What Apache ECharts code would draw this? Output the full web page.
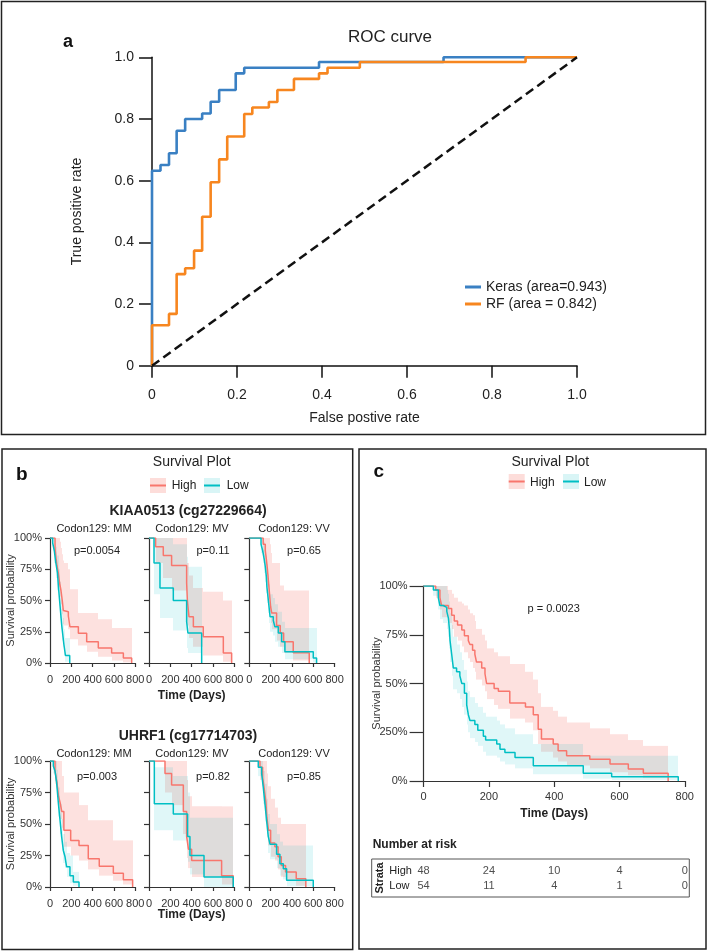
<!DOCTYPE html>
<html><head><meta charset="utf-8">
<script src="https://cdn.jsdelivr.net/npm/echarts@6/dist/echarts.min.js"></script>
<style>html,body{margin:0;padding:0;background:#fff}#c{width:708px;height:951px}</style>
</head><body><div id="c"></div>
<script>
const FONT = "'Liberation Sans', Arial, Helvetica, sans-serif";

// ---------------- Panel a : ROC ----------------
const rocTickLabels = ['0', '0.2', '0.4', '0.6', '0.8', '1.0'];
const kerasFpr = [0, 0, 0.02, 0.04, 0.058, 0.078, 0.118, 0.138, 0.158, 0.197, 0.217, 0.393, 0.686, 1];
const kerasTpr = [0, 0.632, 0.651, 0.689, 0.762, 0.80, 0.818, 0.856, 0.894, 0.948, 0.966, 0.985, 1.0, 1.0];
const rfFpr = [0, 0, 0.04, 0.058, 0.078, 0.099, 0.118, 0.138, 0.158, 0.177, 0.217, 0.236, 0.275, 0.295, 0.334, 0.393, 0.413, 0.489, 0.879, 1];
const rfTpr = [0, 0.131, 0.168, 0.297, 0.316, 0.373, 0.483, 0.595, 0.669, 0.743, 0.816, 0.837, 0.855, 0.894, 0.930, 0.948, 0.966, 0.985, 1.0, 1.0];
const chanceFpr = [0, 1];
const chanceTpr = [0, 1];
const rocNames = ['Keras (area=0.943)', 'RF (area = 0.842)'];

// ---------------- Survival tick labels ----------------
const survPctLabels = ['0%', '25%', '50%', '75%', '100%'];
const cPctLabels = ['0%', '250%', '50%', '75%', '100%'];
const dayTicks = [0, 200, 400, 600, 800];

// ---------------- Panel b : KIAA0513 ----------------
const kMM_hi_t = [0, 47, 55, 65, 78, 90, 103, 115, 125, 134, 172, 187, 266, 344, 453, 578, 688, 766];
const kMM_hi_s = [1, .92, .85, .78, .72, .64, .58, .50, .42, .41, .376, .29, .238, .17, .12, .08, .04, 0];
const kMM_hi_lo = [1, .84, .76, .68, .61, .53, .47, .39, .31, .30, .27, .19, .14, .09, .05, .02, .005, 0];
const kMM_hi_up = [1, 1, 1, 1, 1, .97, .92, .87, .82, .80, .75, .59, .40, .40, .35, .28, .28, 0];
const kMM_lo_t = [0, 25, 40, 55, 70, 80, 90, 100, 110, 118, 130, 145, 185];
const kMM_lo_s = [1, .96, .9, .8, .72, .6, .5, .4, .3, .24, .15, .06, 0];
const kMM_lo_lo = [1, .9, .8, .68, .58, .46, .36, .27, .18, .13, .06, .01, 0];
const kMM_lo_up = [1, 1, 1, .93, .86, .75, .65, .55, .44, .36, .27, .2, 0];

const kMV_hi_t = [0, 62, 134, 212, 353, 360, 375, 416, 509, 697, 775];
const kMV_hi_s = [1, .93, .86, .78, .64, .50, .37, .29, .21, .08, 0];
const kMV_hi_lo = [1, .8, .68, .58, .42, .30, .20, .13, .06, .01, 0];
const kMV_hi_up = [1, 1, 1, 1, .9, .8, .7, .6, .57, .5, 0];
const kMV_lo_t = [0, 47, 103, 228, 353, 365, 494];
const kMV_lo_s = [1, .80, .60, .50, .33, .24, 0];
const kMV_lo_lo = [1, .55, .36, .26, .12, .08, 0];
const kMV_lo_up = [1, 1, 1, .95, .85, .77, 0];

const kVV_hi_t = [0, 130, 150, 160, 170, 180, 190, 200, 210, 256, 290, 322, 412, 562];
const kVV_hi_s = [1, .95, .9, .83, .75, .65, .55, .45, .40, .30, .24, .17, .083, 0];
const kVV_hi_lo = [1, .85, .78, .70, .61, .51, .41, .32, .27, .18, .13, .08, .02, 0];
const kVV_hi_up = [1, 1, 1, 1, 1, 1, .95, .88, .80, .80, .62, .58, .58, 0];
const kVV_lo_t = [0, 110, 125, 140, 150, 160, 165, 175, 185, 195, 225, 240, 272, 303, 334, 600, 631];
const kVV_lo_s = [1, .95, .9, .83, .77, .69, .61, .53, .45, .37, .34, .29, .24, .17, .09, .04, 0];
const kVV_lo_lo = [1, .88, .8, .72, .65, .56, .48, .40, .32, .25, .22, .17, .13, .08, .03, .005, 0];
const kVV_lo_up = [1, 1, 1, .97, .92, .86, .79, .71, .63, .55, .52, .47, .41, .33, .28, .28, 0];

// ---------------- Panel b : UHRF1 ----------------
const uMM_hi_t = [0, 47, 65, 80, 95, 110, 130, 194, 272, 359, 462, 594, 688, 775];
const uMM_hi_s = [1, .92, .83, .72, .67, .60, .45, .37, .33, .225, .164, .11, .058, 0];
const uMM_hi_lo = [1, .82, .72, .60, .54, .47, .32, .25, .21, .14, .09, .05, .02, 0];
const uMM_hi_up = [1, 1, 1, 1, 1, .88, .75, .75, .65, .53, .53, .37, .37, 0];
const uMM_lo_t = [0, 31, 47, 62, 78, 94, 109, 125, 141, 156, 187, 219, 272];
const uMM_lo_s = [1, .96, .92, .83, .67, .53, .40, .29, .24, .16, .09, .04, 0];
const uMM_lo_lo = [1, .9, .84, .73, .56, .42, .29, .19, .15, .08, .03, .01, 0];
const uMM_lo_up = [1, 1, 1, .93, .79, .66, .54, .42, .36, .27, .25, .12, 0];

const uMV_hi_t = [0, 150, 212, 322, 353, 370, 400, 681, 790];
const uMV_hi_s = [1, .90, .81, .60, .40, .30, .21, .09, 0];
const uMV_hi_lo = [1, .75, .65, .42, .23, .15, .08, .02, 0];
const uMV_hi_up = [1, 1, 1, 1, .85, .72, .64, .64, 0];
const uMV_lo_t = [0, 50, 228, 362, 384, 516, 790];
const uMV_lo_s = [1, .66, .58, .40, .25, .08, 0];
const uMV_lo_lo = [1, .45, .37, .2, .1, 0, 0];
const uMV_lo_up = [1, .95, .88, .75, .55, .55, 0];

const uVV_hi_t = [0, 100, 125, 140, 155, 165, 180, 200, 240, 270, 300, 340, 440, 530];
const uVV_hi_s = [1, .95, .87, .78, .68, .55, .45, .35, .32, .24, .17, .12, .066, 0];
const uVV_hi_lo = [1, .85, .76, .65, .55, .42, .33, .24, .21, .14, .08, .05, .01, 0];
const uVV_hi_up = [1, 1, 1, 1, 1, .9, .8, .7, .63, .55, .50, .50, .50, 0];
const uVV_lo_t = [0, 84, 116, 131, 147, 162, 178, 194, 256, 287, 319, 350, 600];
const uVV_lo_s = [1, .95, .90, .79, .66, .53, .40, .34, .26, .185, .145, .053, 0];
const uVV_lo_lo = [1, .88, .80, .66, .52, .40, .27, .22, .15, .09, .06, .005, 0];
const uVV_lo_up = [1, 1, 1, .92, .82, .70, .58, .50, .42, .36, .33, .33, 0];

// ---------------- Panel c ----------------
const cHigh_t = [0, 37, 50, 55, 76, 86, 94, 104, 117, 125, 137, 142, 150, 157, 162, 178, 188, 193, 216, 229, 264, 312, 336, 351, 361, 397, 412, 438, 509, 571, 627, 673, 749];
const cHigh_s = [1, .98, .94, .90, .885, .85, .82, .80, .775, .745, .72, .70, .67, .65, .61, .58, .55, .50, .475, .46, .40, .38, .34, .265, .215, .19, .155, .13, .112, .087, .061, .04, 0];
const cHigh_lo = [1, .94, .88, .84, .81, .78, .74, .72, .69, .66, .63, .61, .58, .56, .52, .49, .46, .42, .39, .37, .32, .30, .26, .19, .15, .12, .10, .08, .065, .045, .03, .015, 0];
const cHigh_up = [1, 1, 1, 1, .98, .96, .94, .92, .91, .90, .88, .86, .85, .82, .78, .75, .72, .68, .66, .64, .60, .56, .52, .45, .38, .36, .33, .30, .27, .24, .21, .18, 0];
const cLow_t = [0, 30, 45, 50, 60, 71, 76, 79, 81, 86, 91, 101, 111, 117, 125, 132, 137, 142, 157, 166, 183, 190, 224, 234, 249, 280, 336, 489, 576, 780];
const cLow_s = [1, .98, .94, .90, .89, .87, .835, .78, .72, .65, .58, .56, .54, .50, .45, .39, .34, .31, .29, .26, .23, .21, .19, .163, .146, .12, .078, .04, .022, 0];
const cLow_lo = [1, .95, .88, .83, .81, .78, .74, .68, .61, .54, .47, .45, .42, .38, .34, .29, .25, .22, .20, .18, .15, .13, .12, .10, .085, .065, .035, .012, .005, 0];
const cLow_up = [1, 1, 1, 1, 1, .98, .96, .92, .86, .80, .74, .70, .66, .62, .57, .51, .46, .43, .40, .38, .35, .33, .31, .29, .27, .24, .19, .13, .13, 0];

const riskGroups = ['High', 'Low'];
const riskTimes = [0, 200, 400, 600, 800];
const riskHigh = [48, 24, 10, 4, 0];
const riskLow = [54, 11, 4, 1, 0];

// ---------------- styling ----------------
const RED = '#F8766D', CYAN = '#00BFC4';
const RED_BAND = 'rgba(248,118,109,0.22)', CYAN_BAND = 'rgba(0,191,196,0.12)';
const BLUE = '#3a80c3', ORANGE = '#f7861f';

const grids = [
  { left: 152, top: 57.3, width: 425, height: 308.4 },      // 0 ROC
  { left: 50, top: 538, width: 85.3, height: 125 },          // 1
  { left: 149, top: 538, width: 85.3, height: 125 },         // 2
  { left: 249.3, top: 538, width: 85.3, height: 125 },       // 3
  { left: 50, top: 761, width: 85.3, height: 126 },          // 4
  { left: 149, top: 761, width: 85.3, height: 126 },         // 5
  { left: 249.3, top: 761, width: 85.3, height: 126 },       // 6
  { left: 423.6, top: 586, width: 261.2, height: 195 },      // 7 panel c
  { left: 423.6, top: 863.5, width: 261.2, height: 30 }      // 8 risk table
];

const xAxes = [], yAxes = [];
// ROC axes
xAxes.push({
  gridIndex: 0, type: 'value', min: 0, max: 1, interval: 0.2,
  axisLine: { lineStyle: { color: '#111', width: 1.5 } },
  axisTick: { length: 12, lineStyle: { color: '#111', width: 1.5 } },
  axisLabel: { fontSize: 14, color: '#222', margin: 22, fontFamily: FONT, formatter: v => rocTickLabels[Math.round(v / 0.2)] },
  splitLine: { show: false },
  name: 'False postive rate', nameLocation: 'middle', nameGap: 45, nameMoveOverlap: false,
  nameTextStyle: { fontSize: 14, color: '#222', fontFamily: FONT }
});
yAxes.push({
  gridIndex: 0, type: 'value', min: 0, max: 1, interval: 0.2,
  axisLine: { lineStyle: { color: '#111', width: 1.5 } },
  axisTick: { length: 13, lineStyle: { color: '#111', width: 1.5 } },
  axisLabel: { fontSize: 14, color: '#222', margin: 18, fontFamily: FONT, formatter: v => rocTickLabels[Math.round(v / 0.2)] },
  splitLine: { show: false },
  name: 'True positive rate', nameLocation: 'middle', nameGap: 68, nameMoveOverlap: false,
  nameTextStyle: { fontSize: 14, color: '#222', fontFamily: FONT }
});

function survX(gi, isC) {
  return {
    gridIndex: gi, type: 'value', min: 0, max: 800, interval: 200,
    axisLine: { lineStyle: { color: '#333', width: 1.2 } },
    axisTick: { length: isC ? 6 : 4, lineStyle: { color: '#333', width: 1.2 } },
    axisLabel: { fontSize: 11, color: '#333', margin: isC ? 10 : 11, fontFamily: FONT },
    splitLine: { show: false },
    name: isC ? 'Time (Days)' : '', nameLocation: 'middle', nameGap: 27, nameMoveOverlap: false,
    nameTextStyle: { fontSize: 12, fontWeight: 'bold', color: '#222', fontFamily: FONT }
  };
}
function survY(gi, labels, nameGap, tickLen, margin) {
  return {
    gridIndex: gi, type: 'value', min: 0, max: 1, interval: 0.25,
    axisLine: { lineStyle: { color: '#333', width: 1.2 } },
    axisTick: { length: tickLen, lineStyle: { color: '#333', width: 1.2 } },
    axisLabel: { show: !!labels, fontSize: 11, color: '#333', margin: margin, fontFamily: FONT,
      formatter: v => labels ? labels[Math.round(v / 0.25)] : '' },
    splitLine: { show: false },
    name: labels ? 'Survival probability' : '', nameLocation: 'middle', nameGap: nameGap, nameMoveOverlap: false,
    nameTextStyle: { fontSize: 11, color: '#333', fontFamily: FONT }
  };
}
for (let gi = 1; gi <= 6; gi++) {
  xAxes.push(survX(gi, false));
  const first = (gi === 1 || gi === 4);
  yAxes.push(survY(gi, first ? survPctLabels : null, 34, 5, 8));
}
xAxes.push(survX(7, true));
yAxes.push(survY(7, cPctLabels, 41, 14, 16));
// risk table axes
xAxes.push({ gridIndex: 8, type: 'value', min: 0, max: 800, show: false });
yAxes.push({ gridIndex: 8, type: 'category', data: riskGroups, inverse: true, show: false });

function band(gi, t, lo, up, color) {
  const rows = [];
  for (let i = 0; i < t.length - 1; i++) rows.push([t[i], t[i + 1], lo[i], up[i]]);
  return {
    type: 'custom', xAxisIndex: gi, yAxisIndex: gi, data: rows, encode: { x: [0, 1], y: [2, 3] },
    silent: true, z: 1,
    renderItem: function (params, api) {
      const a = api.coord([api.value(0), api.value(3)]);
      const b = api.coord([api.value(1), api.value(2)]);
      const x0 = Math.round(a[0]), x1 = Math.round(b[0]);
      return { type: 'rect', shape: { x: x0, y: a[1], width: x1 - x0, height: b[1] - a[1] }, style: { fill: color } };
    }
  };
}
function km(gi, t, s, color) {
  return {
    type: 'line', xAxisIndex: gi, yAxisIndex: gi, step: 'end', symbol: 'none', showSymbol: false,
    data: t.map((v, i) => [v, s[i]]), lineStyle: { color: color, width: 1.5 }, itemStyle: { color: color },
    z: 3, silent: true
  };
}

const series = [];
series.push({ name: rocNames[0], type: 'line', xAxisIndex: 0, yAxisIndex: 0, step: 'end', symbol: 'none',
  data: kerasFpr.map((v, i) => [v, kerasTpr[i]]), lineStyle: { color: BLUE, width: 2.6 }, itemStyle: { color: BLUE }, z: 3 });
series.push({ name: rocNames[1], type: 'line', xAxisIndex: 0, yAxisIndex: 0, step: 'end', symbol: 'none',
  data: rfFpr.map((v, i) => [v, rfTpr[i]]), lineStyle: { color: ORANGE, width: 2.6 }, itemStyle: { color: ORANGE }, z: 4 });
series.push({ type: 'line', xAxisIndex: 0, yAxisIndex: 0, symbol: 'none',
  data: chanceFpr.map((v, i) => [v, chanceTpr[i]]), lineStyle: { color: '#111', width: 2.5, type: [9, 5] }, z: 5 });

const panels = [
  [1, kMM_hi_t, kMM_hi_s, kMM_hi_lo, kMM_hi_up, kMM_lo_t, kMM_lo_s, kMM_lo_lo, kMM_lo_up],
  [2, kMV_hi_t, kMV_hi_s, kMV_hi_lo, kMV_hi_up, kMV_lo_t, kMV_lo_s, kMV_lo_lo, kMV_lo_up],
  [3, kVV_hi_t, kVV_hi_s, kVV_hi_lo, kVV_hi_up, kVV_lo_t, kVV_lo_s, kVV_lo_lo, kVV_lo_up],
  [4, uMM_hi_t, uMM_hi_s, uMM_hi_lo, uMM_hi_up, uMM_lo_t, uMM_lo_s, uMM_lo_lo, uMM_lo_up],
  [5, uMV_hi_t, uMV_hi_s, uMV_hi_lo, uMV_hi_up, uMV_lo_t, uMV_lo_s, uMV_lo_lo, uMV_lo_up],
  [6, uVV_hi_t, uVV_hi_s, uVV_hi_lo, uVV_hi_up, uVV_lo_t, uVV_lo_s, uVV_lo_lo, uVV_lo_up],
  [7, cHigh_t, cHigh_s, cHigh_lo, cHigh_up, cLow_t, cLow_s, cLow_lo, cLow_up]
];
panels.forEach(p => {
  series.push(band(p[0], p[1], p[3], p[4], RED_BAND));
  series.push(band(p[0], p[5], p[7], p[8], CYAN_BAND));
});
panels.forEach(p => {
  series.push(km(p[0], p[1], p[2], RED));
  series.push(km(p[0], p[5], p[6], CYAN));
});
// number at risk
series.push({
  type: 'scatter', xAxisIndex: 8, yAxisIndex: 8, symbolSize: 1, itemStyle: { color: 'rgba(0,0,0,0)' }, silent: true,
  data: riskTimes.map((t, i) => [t, riskGroups[0], riskHigh[i]]).concat(riskTimes.map((t, i) => [t, riskGroups[1], riskLow[i]])),
  label: { show: true, position: 'inside', formatter: p => String(p.value[2]), fontSize: 11, color: '#222', fontFamily: FONT }
});

// ---------------- graphics ----------------
function txt(x, y, text, size, extra) {
  return Object.assign({ type: 'text', x: x, y: y, silent: true,
    style: Object.assign({ text: text, fontSize: size, fontFamily: FONT, fill: '#222', align: 'center', verticalAlign: 'middle' }, (extra && extra.style) || {}) },
    extra && extra.rot ? { rotation: extra.rot } : {});
}
function key(x, y, fillC, lineC) {
  return [
    { type: 'rect', silent: true, shape: { x: x, y: y - 7.5, width: 16, height: 15 }, style: { fill: fillC } },
    { type: 'line', silent: true, shape: { x1: x, y1: y, x2: x + 16, y2: y }, style: { stroke: lineC, lineWidth: 2 } }
  ];
}
const g = [];
// borders
g.push({ type: 'rect', silent: true, shape: { x: 1.5, y: 1.5, width: 704, height: 433 }, style: { fill: 'none', stroke: '#222', lineWidth: 1.5 } });
g.push({ type: 'rect', silent: true, shape: { x: 2, y: 449, width: 350.7, height: 500.5 }, style: { fill: 'none', stroke: '#222', lineWidth: 1.5 } });
g.push({ type: 'rect', silent: true, shape: { x: 359, y: 449, width: 347, height: 500 }, style: { fill: 'none', stroke: '#222', lineWidth: 1.5 } });
// panel a
g.push(txt(68, 42, 'a', 18, { style: { fontWeight: 'bold', fill: '#111' } }));
g.push(txt(390, 37, 'ROC curve', 17));
// panel b
g.push(txt(21.7, 475, 'b', 19, { style: { fontWeight: 'bold', fill: '#111' } }));
g.push(txt(191.7, 462, 'Survival Plot', 14));
key(150, 485.5, 'rgba(248,118,109,0.25)', RED).forEach(e => g.push(e));
key(204, 485.5, 'rgba(0,191,196,0.15)', CYAN).forEach(e => g.push(e));
g.push(txt(171.7, 486, 'High', 12, { style: { align: 'left' } }));
g.push(txt(226.7, 486, 'Low', 12, { style: { align: 'left' } }));
g.push(txt(188, 511, 'KIAA0513 (cg27229664)', 14, { style: { fontWeight: 'bold' } }));
g.push(txt(188, 736, 'UHRF1 (cg17714703)', 14, { style: { fontWeight: 'bold' } }));
const stripX = [94, 192, 294];
const strips = ['Codon129: MM', 'Codon129: MV', 'Codon129: VV'];
strips.forEach((s, i) => { g.push(txt(stripX[i], 529, s, 11)); g.push(txt(stripX[i], 754, s, 11)); });
const pTop = ['p=0.0054', 'p=0.11', 'p=0.65'];
const pBot = ['p=0.003', 'p=0.82', 'p=0.85'];
const pX = [97, 213, 304];
pTop.forEach((s, i) => g.push(txt(pX[i], 551, s, 11)));
pBot.forEach((s, i) => g.push(txt(pX[i], 777, s, 11)));
g.push(txt(191.7, 696, 'Time (Days)', 12, { style: { fontWeight: 'bold' } }));
g.push(txt(191.7, 915, 'Time (Days)', 12, { style: { fontWeight: 'bold' } }));
// panel c
g.push(txt(378.7, 472, 'c', 19, { style: { fontWeight: 'bold', fill: '#111' } }));
g.push(txt(550.3, 462, 'Survival Plot', 14));
key(508.7, 481.5, 'rgba(248,118,109,0.25)', RED).forEach(e => g.push(e));
key(563, 481.5, 'rgba(0,191,196,0.15)', CYAN).forEach(e => g.push(e));
g.push(txt(530, 483, 'High', 12, { style: { align: 'left' } }));
g.push(txt(584, 483, 'Low', 12, { style: { align: 'left' } }));
g.push(txt(553.7, 609, 'p = 0.0023', 11));
g.push(txt(372.7, 845, 'Number at risk', 12, { style: { fontWeight: 'bold', align: 'left' } }));
g.push({ type: 'rect', silent: true, shape: { x: 371.7, y: 859, width: 317.6, height: 38 }, style: { fill: 'none', stroke: '#555', lineWidth: 1 } });
g.push(txt(380, 878, 'Strata', 11, { rot: Math.PI / 2, style: { fontWeight: 'bold' } }));
g.push(txt(389.3, 871, 'High', 11, { style: { align: 'left' } }));
g.push(txt(389.3, 886, 'Low', 11, { style: { align: 'left' } }));

const chart = echarts.init(document.getElementById('c'), null, { renderer: 'canvas' });
chart.setOption({
  animation: false,
  backgroundColor: '#fff',
  textStyle: { fontFamily: FONT },
  grid: grids,
  xAxis: xAxes,
  yAxis: yAxes,
  legend: {
    data: rocNames, orient: 'vertical', left: 460, top: 275, itemWidth: 16, itemHeight: 3, icon: 'rect',
    itemGap: 3, selectedMode: false, textStyle: { fontSize: 14, color: '#222', fontFamily: FONT }
  },
  series: series,
  graphic: g
});
</script></body></html>
